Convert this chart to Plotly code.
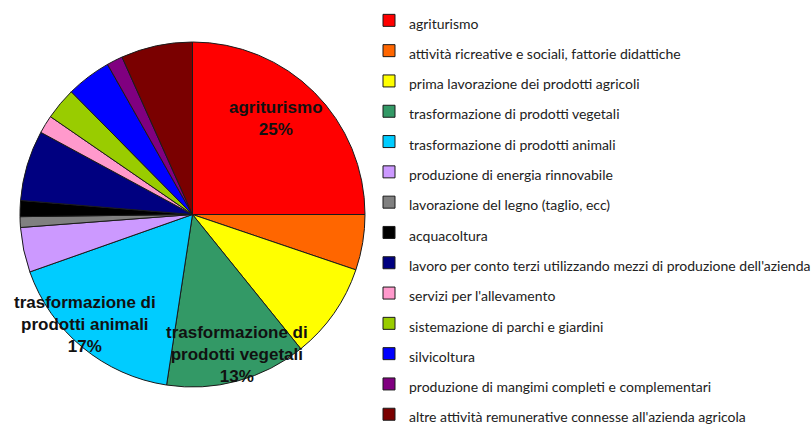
import plotly.graph_objects as go

# Attività connesse all'agricoltura: quota percentuale per tipo di attività
categories = [
    "agriturismo",
    "attività ricreative e sociali, fattorie didattiche",
    "prima lavorazione dei prodotti agricoli",
    "trasformazione di prodotti vegetali",
    "trasformazione di prodotti animali",
    "produzione di energia rinnovabile",
    "lavorazione del legno (taglio, ecc)",
    "acquacoltura",
    "lavoro per conto terzi utilizzando mezzi di produzione dell'azienda",
    "servizi per l'allevamento",
    "sistemazione di parchi e giardini",
    "silvicoltura",
    "produzione di mangimi completi e complementari",
    "altre attività remunerative connesse all'azienda agricola",
]
shares = [25.0, 5.2, 9.0, 13.2, 17.2, 4.2, 1.0, 1.5, 6.6, 1.7, 3.0, 4.2, 1.5, 6.7]
colors = [
    "#FF0000", "#FF6600", "#FFFF00", "#339966", "#00CCFF", "#CC99FF", "#808080",
    "#000000", "#000080", "#FF99CC", "#99CC00", "#0000FF", "#800080", "#7A0000",
]

# Slices that carry an in-chart label, with the line break used for each
slice_labels = {
    "agriturismo": "agriturismo",
    "trasformazione di prodotti vegetali": "trasformazione di<br>prodotti vegetali",
    "trasformazione di prodotti animali": "trasformazione di<br>prodotti animali",
}
# Label anchor points (pixels from top-left of the page)
label_pos = {
    "agriturismo": (276, 118),
    "trasformazione di prodotti vegetali": (237, 354),
    "trasformazione di prodotti animali": (85, 324),
}

W, H = 811, 426
cx, cy, r = 192.5, 214.5, 172.5

fig = go.Figure(
    go.Pie(
        labels=[f'<span style="font-size:14px">{c}</span>' for c in categories],
        values=shares,
        sort=False,
        direction="clockwise",
        rotation=0,
        marker=dict(colors=colors, line=dict(color="#1a1a1a", width=1)),
        textinfo="none",
        hoverinfo="label+percent",
        domain=dict(x=[(cx - r) / W, (cx + r) / W], y=[1 - (cy + r) / H, 1 - (cy - r) / H]),
    )
)

total = sum(shares)
for name, text in slice_labels.items():
    v = shares[categories.index(name)]
    px, py = label_pos[name]
    fig.add_annotation(
        x=px / W, y=1 - py / H, xref="paper", yref="paper",
        xanchor="center", yanchor="middle", showarrow=False,
        text=f"<b>{text}<br>{round(v / total * 100):.0f}%</b>",
        font=dict(family="Liberation Sans, Arial, sans-serif", size=17, color="#111111"),
        align="center",
    )

fig.update_layout(
    width=W, height=H,
    margin=dict(l=0, r=0, t=0, b=0, autoexpand=False),
    paper_bgcolor="white",
    plot_bgcolor="white",
    showlegend=True,
    legend=dict(
        x=369 / W, y=1 - 0.2 / H, xanchor="left", yanchor="top",
        font=dict(family="Lato, Open Sans, sans-serif", size=21, color="#222222"),
        bgcolor="rgba(0,0,0,0)",
        traceorder="normal",
        maxheight=1000,
    ),
)

fig.write_html("out.html")
